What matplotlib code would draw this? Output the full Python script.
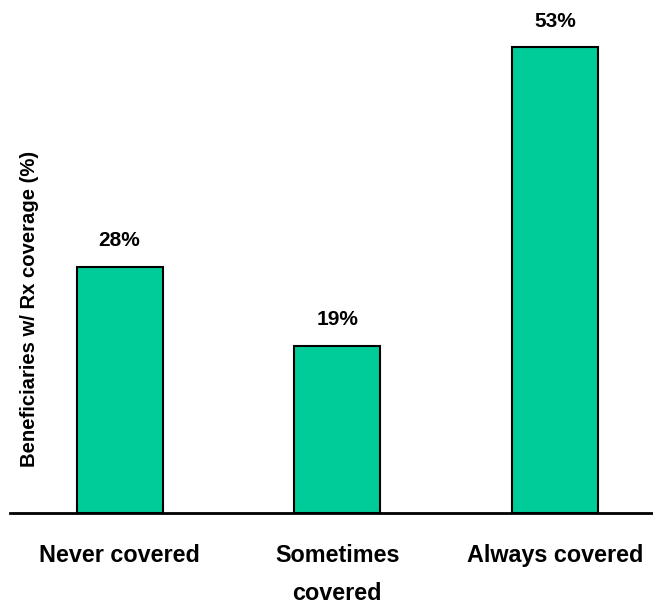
import matplotlib
matplotlib.use('Agg')
import matplotlib.pyplot as plt

categories = ['Never covered', 'Sometimes\ncovered', 'Always covered']
values = [28, 19, 53]
value_labels = ['28%', '19%', '53%']

plt.rcParams['font.family'] = ['Liberation Sans', 'DejaVu Sans']
plt.rcParams['font.weight'] = 'bold'

fig = plt.figure(figsize=(6.53, 6.06), dpi=100)
ax = fig.add_axes([10 / 653, 93 / 606, 643 / 653, 513 / 606])

x = list(range(len(values)))
ax.bar(x, values, 0.395, color='#00CC99', edgecolor='black', linewidth=1.5, zorder=2)

for xi, v, lab in zip(x, values, value_labels):
    ax.annotate(lab, (xi, v), xytext=(0, 19), textcoords='offset points',
                ha='center', va='center', fontsize=15, fontweight='bold')

ax.set_xlim(-0.503, 2.45)
ax.set_ylim(0, 58.4)

for side in ['top', 'right', 'left']:
    ax.spines[side].set_visible(False)
ax.spines['bottom'].set_linewidth(2)
ax.set_yticks([])
ax.set_xticks(x)
ax.set_xticklabels(categories, fontsize=16.8, fontweight='bold', linespacing=1.85)
ax.tick_params(axis='x', length=0, pad=22)

fig.text(30 / 653, 1 - 309 / 606, 'Beneficiaries w/ Rx coverage (%)', rotation=90,
         ha='center', va='center', fontsize=14.6, fontweight='bold')

plt.savefig('out.png', dpi=100)
